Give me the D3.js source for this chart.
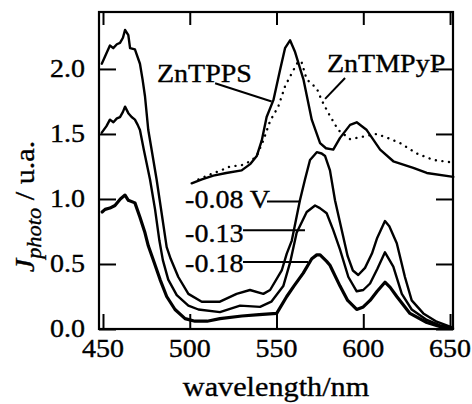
<!DOCTYPE html>
<html lang="en">
	<head>
		<meta charset="utf-8">
		<title>photocurrent spectra</title>
		<script type="text/javascript" src="https://cdn.jsdelivr.net/npm/d3@7"></script>
		<style type="text/css">
			body { margin: 0; background: #fff; }
			text { font-family: "Liberation Serif", "Times New Roman", serif; fill: #000; stroke: #000; stroke-width: 0.35px; }
		</style>
	</head>

	<body>
        <script type="text/javascript">

            // chart size
			var w = 472;
			var h = 404;
			var margin = {top: 12, right: 19, bottom: 75, left: 99};

            // photocurrent at -0.08 V
            var wl008 = [449.3, 452, 454, 455.9, 458, 459.8, 461.5, 462.7, 464.6, 465.6, 468.4, 471.3, 472.8, 474.2, 476.1, 478, 480.9, 483.8, 486.7, 489, 493.4, 499.2, 506.9, 517.4, 527, 534.7, 542.4, 546.3, 553, 555.9, 558.8, 563.5, 566.4, 569.3, 573.2, 576, 578, 580.8, 583.7, 587.6, 591, 594, 597.1, 601, 605, 608, 612.5, 615, 619.3, 624, 627.9, 634.6, 642.3, 651.5];
            var j008 = [2.04, 2.12, 2.18, 2.16, 2.19, 2.20, 2.24, 2.30, 2.26, 2.16, 2.15, 2.04, 1.92, 1.79, 1.53, 1.38, 1.15, 0.89, 0.63, 0.54, 0.40, 0.27, 0.21, 0.21, 0.27, 0.30, 0.27, 0.30, 0.45, 0.58, 0.68, 0.99, 1.15, 1.30, 1.36, 1.35, 1.33, 1.22, 0.99, 0.76, 0.56, 0.45, 0.415, 0.47, 0.58, 0.70, 0.83, 0.79, 0.66, 0.40, 0.22, 0.12, 0.056, 0.01];

            // photocurrent at -0.13 V
            var wl013 = [449.3, 452, 454, 456, 458, 459.8, 461.5, 462.7, 464.6, 466.5, 468.4, 470, 471.3, 473.5, 477.1, 480, 482.5, 484.5, 487.6, 492.5, 499.2, 505, 517.4, 529, 540.5, 547, 553.9, 557.8, 561.6, 567.4, 572.2, 575, 578.9, 582.7, 586.6, 591.4, 596.2, 600, 603.9, 608, 612.5, 617.3, 622.2, 627.9, 636.6, 644, 651.5];
            var j013 = [1.51, 1.56, 1.61, 1.59, 1.62, 1.63, 1.67, 1.71, 1.66, 1.63, 1.61, 1.57, 1.53, 1.38, 1.15, 0.92, 0.68, 0.53, 0.38, 0.26, 0.18, 0.15, 0.13, 0.18, 0.17, 0.21, 0.33, 0.51, 0.74, 0.90, 0.95, 0.93, 0.89, 0.76, 0.61, 0.40, 0.29, 0.30, 0.35, 0.46, 0.59, 0.48, 0.27, 0.15, 0.07, 0.03, 0.01];

            // photocurrent at -0.18 V
            var wl018 = [449.5, 451.2, 454, 456.9, 460, 462.7, 464.6, 468.4, 471.3, 474.2, 476.1, 479, 482.9, 486.7, 491.5, 497.3, 503, 510, 517.4, 530, 540, 550.1, 555.9, 560, 565.4, 570.3, 573.2, 575.1, 578.9, 580.8, 586.6, 591, 596.2, 600, 603.9, 608, 612.5, 615.5, 619.3, 626.9, 636.6, 644, 651.5];
            var j018 = [0.90, 0.92, 0.93, 0.95, 1.00, 1.03, 0.99, 0.97, 0.86, 0.74, 0.64, 0.53, 0.38, 0.25, 0.15, 0.08, 0.06, 0.06, 0.08, 0.10, 0.11, 0.12, 0.25, 0.33, 0.43, 0.54, 0.57, 0.57, 0.52, 0.49, 0.33, 0.22, 0.15, 0.17, 0.22, 0.29, 0.36, 0.32, 0.25, 0.12, 0.05, 0.02, 0.005];

            // absorption spectra
            var wlTPPS = [501.1, 507, 513.6, 521, 529.9, 535, 538.6, 541.5, 544.3, 548.2, 552, 554.9, 557.8, 560.7, 565.5, 570.3, 575.1, 578.5, 582.7, 586.6, 592.4, 596.2, 602, 609.7, 617.3, 628.8, 636.6, 651.9];
            var aTPPS = [1.12, 1.15, 1.18, 1.20, 1.22, 1.27, 1.33, 1.45, 1.63, 1.76, 1.99, 2.16, 2.22, 2.13, 1.92, 1.61, 1.43, 1.39, 1.38, 1.47, 1.57, 1.59, 1.53, 1.38, 1.29, 1.24, 1.20, 1.17];

            var wlTMPyP = [505, 512, 518, 523.2, 529.9, 535, 538.6, 542.4, 546.3, 551, 555, 559.7, 562.6, 564.5, 567.4, 573.2, 576, 579.9, 585.6, 592.4, 600, 607.7, 614, 621.2, 630.8, 640.4, 651.9];
            var aTMPyP = [1.15, 1.19, 1.22, 1.25, 1.26, 1.29, 1.33, 1.45, 1.60, 1.71, 1.87, 1.99, 2.06, 2.05, 1.92, 1.85, 1.76, 1.66, 1.53, 1.46, 1.48, 1.50, 1.47, 1.43, 1.35, 1.30, 1.28];

            var xTicks = [450, 500, 550, 600, 650];
            var yTicks = [0, 0.5, 1.0, 1.5, 2.0];

            // labels: text, wavelength, value of the baseline
            var curveLabels = [
                {text: "ZnTPPS", x: 481.1, y: 1.90},
                {text: "ZnTMPyP", x: 579.1, y: 1.98},
                {text: "-0.08 V", x: 497.3, y: 0.93},
                {text: "-0.13", x: 497.3, y: 0.67},
                {text: "-0.18", x: 497.3, y: 0.44}
            ];
            // leader lines from label to curve
            var leaders = [
                [514.6, 1.89, 547.2, 1.75],
                [589.5, 1.93, 578, 1.77],
                [544.5, 0.98, 563.5, 0.98],
                [530.7, 0.76, 566.4, 0.76],
                [530.7, 0.515, 568.2, 0.515]
            ];

            var sx = 1.12; // scanned text is a bit wide

            var xScale = d3.scaleLinear()
                .domain([447.7, 651.7])
                .range([margin.left, w - margin.right]);

            var yScale = d3.scaleLinear()
                .domain([0, 2.438])
                .range([h - margin.bottom, margin.top]);

            var svg = d3.select("body")
                .append("svg")
                .attr("width", w)
                .attr("height", h);

            function zip(xs, ys) {
                return xs.map(function(x, i) { return [x, ys[i]]; });
            }

            var line = d3.line()
                .x(function(d) { return xScale(d[0]); })
                .y(function(d) { return yScale(d[1]); });

            var series = [
                {pts: zip(wl008, j008), width: 2.4, dash: null},
                {pts: zip(wl013, j013), width: 2.4, dash: null},
                {pts: zip(wl018, j018), width: 3.2, dash: null},
                {pts: zip(wlTPPS, aTPPS), width: 2.4, dash: null},
                {pts: zip(wlTMPyP, aTMPyP), width: 2.4, dash: "0.1,6.5"}
            ];

            svg.selectAll("path.curve")
                .data(series)
                .enter()
                .append("path")
                .attr("class", "curve")
                .attr("d", function(d) { return line(d.pts); })
                .attr("fill", "none")
                .attr("stroke", "#000")
                .attr("stroke-width", function(d) { return d.width; })
                .attr("stroke-linejoin", "round")
                .attr("stroke-linecap", "round")
                .attr("stroke-dasharray", function(d) { return d.dash; });

            // axes, ticks inside the frame
            var x0 = xScale.range()[0], x1 = xScale.range()[1];
            var y0 = yScale.range()[0], y1 = yScale.range()[1];

            svg.append("g")
                .attr("transform", "translate(0," + y0 + ")")
                .call(d3.axisBottom(xScale).tickValues(xTicks).tickSize(-15).tickFormat(""))
                .call(function(g) { g.select(".domain").remove(); })
                .selectAll("line").attr("stroke-width", 2);

            svg.append("g")
                .attr("transform", "translate(0," + y1 + ")")
                .call(d3.axisTop(xScale).tickValues(xTicks).tickSize(-13).tickFormat(""))
                .call(function(g) { g.select(".domain").remove(); })
                .selectAll("line").attr("stroke-width", 2);

            svg.append("g")
                .attr("transform", "translate(" + x0 + ",0)")
                .call(d3.axisLeft(yScale).tickValues(yTicks).tickSize(-17).tickFormat(""))
                .call(function(g) { g.select(".domain").remove(); })
                .selectAll("line").attr("stroke-width", 2);

            svg.append("g")
                .attr("transform", "translate(" + x1 + ",0)")
                .call(d3.axisRight(yScale).tickValues(yTicks).tickSize(-17).tickFormat(""))
                .call(function(g) { g.select(".domain").remove(); })
                .selectAll("line").attr("stroke-width", 2);

            svg.append("rect")
                .attr("x", x0)
                .attr("y", y1)
                .attr("width", x1 - x0)
                .attr("height", y0 - y1)
                .attr("fill", "none")
                .attr("stroke", "#000")
                .attr("stroke-width", 2.2);

            // tick labels
            svg.selectAll("text.xlab")
                .data(xTicks)
                .enter()
                .append("text")
                .attr("class", "xlab")
                .attr("transform", function(d) { return "translate(" + xScale(d) + "," + (y0 + 28) + ") scale(" + sx + ",1)"; })
                .attr("text-anchor", "middle")
                .style("font-size", "25px")
                .text(function(d) { return d; });

            svg.selectAll("text.ylab")
                .data(yTicks)
                .enter()
                .append("text")
                .attr("class", "ylab")
                .attr("transform", function(d) { return "translate(" + (x0 - 14) + "," + (yScale(d) + 8) + ") scale(" + sx + ",1)"; })
                .attr("text-anchor", "end")
                .style("font-size", "25px")
                .text(function(d) { return d3.format(".1f")(d); });

            // axis titles
            svg.append("text")
                .attr("transform", "translate(" + ((x0 + x1) / 2) + "," + (h - 8) + ") scale(" + sx + ",1)")
                .attr("text-anchor", "middle")
                .style("font-size", "27px")
                .text("wavelength/nm");

            var ytitle = svg.append("text")
                .attr("transform", "translate(34," + ((y0 + y1) / 2 + 36) + ") rotate(-90) scale(" + sx + ",1)")
                .attr("text-anchor", "middle")
                .style("font-size", "27px");
            ytitle.append("tspan").style("font-style", "italic").text("J");
            ytitle.append("tspan").style("font-style", "italic").style("font-size", "20px").attr("dy", 7).text("photo");
            ytitle.append("tspan").attr("dy", -7).text(" / u.a.");

            // curve labels and leader lines
            svg.selectAll("line.leader")
                .data(leaders)
                .enter()
                .append("line")
                .attr("class", "leader")
                .attr("x1", function(d) { return xScale(d[0]); })
                .attr("y1", function(d) { return yScale(d[1]); })
                .attr("x2", function(d) { return xScale(d[2]); })
                .attr("y2", function(d) { return yScale(d[3]); })
                .attr("stroke", "#000")
                .attr("stroke-width", 2);

            svg.selectAll("text.clab")
                .data(curveLabels)
                .enter()
                .append("text")
                .attr("class", "clab")
                .attr("transform", function(d) { return "translate(" + xScale(d.x) + "," + yScale(d.y) + ") scale(" + sx + ",1)"; })
                .style("font-size", "25px")
                .text(function(d) { return d.text; });

        </script>
	</body>
</html>
